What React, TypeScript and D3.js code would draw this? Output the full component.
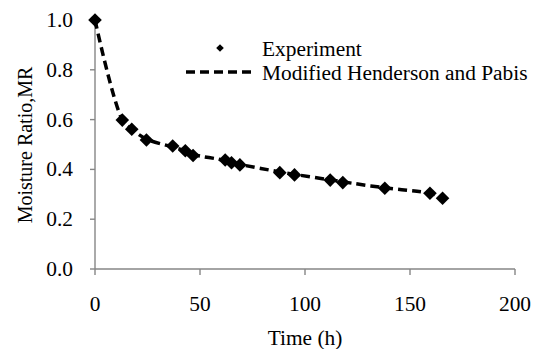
import React from "react";
import * as d3 from "d3";

const expTime = [0, 13, 17.5, 24.5, 37, 43, 46.7, 62, 65, 69, 88, 95, 112, 118, 138, 159.5, 165.5];
const expMR = [1.0, 0.598, 0.561, 0.518, 0.494, 0.475, 0.456, 0.438, 0.427, 0.418, 0.387, 0.378, 0.357, 0.347, 0.324, 0.304, 0.284];
const modelTime = [0, 13, 17.5, 24.5, 37, 43, 46.7, 62, 65, 69, 88, 95, 112, 118, 138, 159.5, 165.5];
const modelMR = [1.0, 0.6, 0.562, 0.522, 0.49, 0.474, 0.46, 0.436, 0.428, 0.42, 0.39, 0.38, 0.358, 0.35, 0.326, 0.304, 0.288];
const xTicks = [0, 50, 100, 150, 200];
const yTicks = [0, 0.2, 0.4, 0.6, 0.8, 1.0];
const seriesNames = ["Experiment", "Modified Henderson and Pabis"];

const W = 536, H = 349;
const FONT = "Liberation Serif";
const FS = 20;
const SX = 1.07;
const AXIS = "#868686";

function T(props: { x: number; y: number; anchor?: string; children: React.ReactNode }) {
  return (
    <text
      transform={`translate(${props.x},${props.y}) scale(${SX},1)`}
      style={{ fontFamily: FONT, fontSize: FS + "px" }}
      textAnchor={props.anchor || "start"}
      fill="#000"
    >
      {props.children}
    </text>
  );
}

export default function App() {
  const x = d3.scaleLinear().domain([0, 200]).range([95, 515]);
  const y = d3.scaleLinear().domain([0, 1]).range([269, 20]);
  const line = d3
    .line<number>()
    .x((_, i) => x(modelTime[i]))
    .y((d) => y(d))
    .curve(d3.curveCatmullRom.alpha(0.5));
  const diamond = (cx: number, cy: number, r: number) =>
    `M${cx},${cy - r}L${cx + r},${cy}L${cx},${cy + r}L${cx - r},${cy}Z`;

  return (
    <svg width={W} height={H} style={{ position: "absolute", left: 0, top: 0, background: "#fff" }}>
      <rect width={W} height={H} fill="#fff" />
      <line x1={x(0)} x2={x(0)} y1={y(1)} y2={y(0)} stroke={AXIS} strokeWidth={1.4} />
      <line x1={x(0)} x2={x(200)} y1={y(0)} y2={y(0)} stroke={AXIS} strokeWidth={1.4} />
      {yTicks.map((t) => (
        <g key={"y" + t}>
          <line x1={x(0) - 5} x2={x(0)} y1={y(t)} y2={y(t)} stroke={AXIS} strokeWidth={1.4} />
          <T x={73} y={y(t) + 7} anchor="end">{t.toFixed(1)}</T>
        </g>
      ))}
      {xTicks.map((t) => (
        <g key={"x" + t}>
          <line x1={x(t)} x2={x(t)} y1={y(0)} y2={y(0) + 6} stroke={AXIS} strokeWidth={1.4} />
          <T x={x(t)} y={311} anchor="middle">{t}</T>
        </g>
      ))}
      <T x={305} y={345} anchor="middle">Time (h)</T>
      <text
        transform={`translate(32,145) rotate(-90)`}
        style={{ fontFamily: FONT, fontSize: FS + "px" }}
        textAnchor="middle"
        fill="#000"
      >
        Moisture Ratio,MR
      </text>
      <path d={line(modelMR) || ""} fill="none" stroke="#000" strokeWidth={3.5} strokeDasharray="9,5" />
      {expMR.map((v, i) => (
        <path key={"p" + i} d={diamond(x(expTime[i]), y(v), 6.8)} fill="#000" />
      ))}
      <path d={diamond(220, 48, 3.8)} fill="#000" />
      <T x={262} y={56}>{seriesNames[0]}</T>
      <line x1={186} x2={252} y1={72} y2={72} stroke="#000" strokeWidth={3.5} strokeDasharray="9,5" />
      <T x={262} y={80}>{seriesNames[1]}</T>
    </svg>
  );
}
